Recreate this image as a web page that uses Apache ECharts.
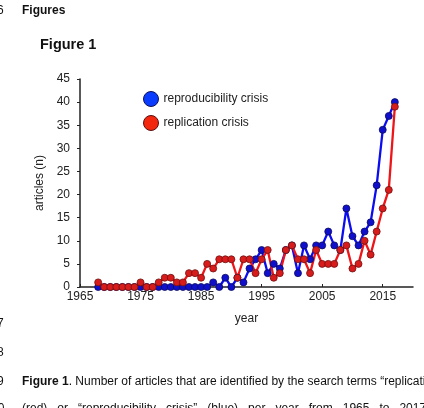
<!DOCTYPE html>
<html>
<head>
<meta charset="utf-8">
<script src="https://cdn.jsdelivr.net/npm/echarts@6/dist/echarts.min.js"></script>
<style>
  html, body { margin: 0; padding: 0; background: #fff; }
  #main { width: 424px; height: 408px; }
</style>
</head>
<body>
<div id="main"></div>
<script>
// years 1968..2017
const years = [
  1968, 1969, 1970, 1971, 1972, 1973, 1974, 1975, 1976, 1977,
  1978, 1979, 1980, 1981, 1982, 1983, 1984, 1985, 1986, 1987,
  1988, 1989, 1990, 1991, 1992, 1993, 1994, 1995, 1996, 1997,
  1998, 1999, 2000, 2001, 2002, 2003, 2004, 2005, 2006, 2007,
  2008, 2009, 2010, 2011, 2012, 2013, 2014, 2015, 2016, 2017
];
const reproducibility = [
  0, 0, 0, 0, 0, 0, 0, 0, 0, 0,
  0, 0, 0, 0, 0, 0, 0, 0, 0, 1,
  0, 2, 0, 2, 1, 4, 6, 8, 3, 5,
  4, 8, 9, 3, 9, 6, 9, 9, 12, 9,
  8, 17, 11, 9, 12, 14, 22, 34, 37, 40
];
const replication = [
  1, 0, 0, 0, 0, 0, 0, 1, 0, 0,
  1, 2, 2, 1, 1, 3, 3, 2, 5, 4,
  6, 6, 6, 2, 6, 6, 3, 6, 8, 2,
  3, 8, 9, 6, 6, 3, 8, 5, 5, 5,
  8, 9, 4, 5, 10, 7, 12, 17, 21, 39
];
const yearTicks = [1965, 1975, 1985, 1995, 2005, 2015];

const pairs = (vals) => years.map((y, i) => [y, vals[i]]);

const font = 'Liberation Sans, Arial, sans-serif';
const chart = echarts.init(document.getElementById('main'), null, { renderer: 'canvas' });

chart.setOption({
  animation: false,
  backgroundColor: '#fff',
  textStyle: { fontFamily: font },
  grid: { left: 80, right: 11, top: 79, bottom: 121 },
  legend: {
    orient: 'vertical',
    left: 138,
    top: 86,
    icon: 'circle',
    itemWidth: 15,
    itemHeight: 15,
    itemGap: 8,
    textStyle: { fontFamily: font, fontSize: 12, color: '#222' },
    data: [
      { name: 'reproducibility crisis', itemStyle: { color: '#0a3cff', borderColor: '#10105a', borderWidth: 1 } },
      { name: 'replication crisis', itemStyle: { color: '#f3260e', borderColor: '#5a1010', borderWidth: 1 } }
    ]
  },
  xAxis: {
    type: 'value',
    min: 1965,
    max: 2020,
    name: 'year',
    nameLocation: 'middle',
    nameGap: 26,
    nameTextStyle: { fontFamily: font, fontSize: 12, color: '#222' },
    axisLine: { lineStyle: { color: '#222', width: 1.5 } },
    axisTick: { show: true, inside: true, length: 3, customValues: yearTicks, lineStyle: { color: '#222' } },
    axisLabel: {
      customValues: yearTicks, fontSize: 12, color: '#222', margin: 4, fontFamily: font,
      formatter: (v) => String(v)
    },
    splitLine: { show: false }
  },
  yAxis: {
    type: 'value',
    min: 0,
    max: 45,
    interval: 5,
    name: 'articles (n)',
    nameLocation: 'middle',
    nameGap: 34,
    nameTextStyle: { fontFamily: font, fontSize: 12, color: '#222' },
    axisLine: { show: true, lineStyle: { color: '#222', width: 1.5 } },
    axisTick: { show: true, length: 3, lineStyle: { color: '#222' } },
    axisLabel: { fontSize: 12, color: '#222', margin: 10, fontFamily: font },
    splitLine: { show: false }
  },
  series: [
    {
      name: 'reproducibility crisis',
      type: 'line',
      data: pairs(reproducibility),
      symbol: 'circle',
      symbolSize: 7,
      lineStyle: { color: '#0c0cf0', width: 2.3 },
      itemStyle: { color: '#1010cc', borderColor: '#0a0a60', borderWidth: 0.8 }
    },
    {
      name: 'replication crisis',
      type: 'line',
      data: pairs(replication),
      symbol: 'circle',
      symbolSize: 7,
      lineStyle: { color: '#ee1418', width: 2.3 },
      itemStyle: { color: '#d81c1c', borderColor: '#701010', borderWidth: 0.8 }
    }
  ],
  graphic: [
    { type: 'text', left: -3, top: 5, style: { text: '6', font: '12px ' + font, fill: '#111' } },
    { type: 'text', left: 22, top: 5, style: { text: 'Figures', font: 'bold 12px ' + font, fill: '#111' } },
    { type: 'text', left: 40, top: 37, style: { text: 'Figure 1', font: 'bold 14.5px ' + font, fill: '#111' } },
    { type: 'text', left: -3, top: 318, style: { text: '7', font: '12px ' + font, fill: '#111' } },
    { type: 'text', left: -3, top: 347, style: { text: '8', font: '12px ' + font, fill: '#111' } },
    { type: 'text', left: -3, top: 376, style: { text: '9', font: '12px ' + font, fill: '#111' } },
    { type: 'text', left: -9, top: 403, style: { text: '10', font: '12px ' + font, fill: '#111' } },
    {
      type: 'text', left: 22, top: 376,
      style: {
        text: '{b|Figure 1}. Number of articles that are identified by the search terms \u201creplication crisis\u201d',
        font: '12px ' + font, fill: '#111',
        rich: { b: { fontWeight: 'bold', fontSize: 12, fontFamily: font, fill: '#111' } }
      }
    },
    {
      type: 'text', left: 22, top: 403,
      style: {
        text: '(red)   or   \u201creproducibility   crisis\u201d   (blue)   per   year   from   1965   to   2017   in',
        font: '12px ' + font, fill: '#111'
      }
    }
  ]
});
</script>
</body>
</html>
